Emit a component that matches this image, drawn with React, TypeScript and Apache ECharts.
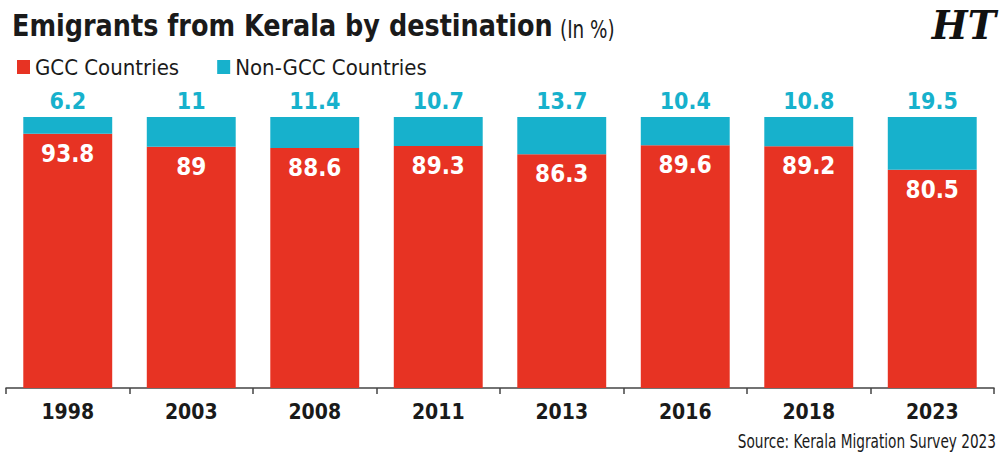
import React, { useEffect, useRef } from "react";
import * as echarts from "echarts";

const years = ["1998", "2003", "2008", "2011", "2013", "2016", "2018", "2023"];
const gccValues = [93.8, 89, 88.6, 89.3, 86.3, 89.6, 89.2, 80.5];
const nonGccValues = [6.2, 11, 11.4, 10.7, 13.7, 10.4, 10.8, 19.5];

const RED = "#e73323";
const CYAN = "#17b1cc";
const FONT = "'DejaVu Sans Condensed', 'DejaVu Sans', sans-serif";

export default function App() {
  const ref = useRef<HTMLDivElement>(null);
  useEffect(() => {
    if (!ref.current) return;
    const chart = echarts.init(ref.current, null, { renderer: "svg" });
    chart.setOption({
      animation: false,
      backgroundColor: "#ffffff",
      legend: {
        left: 12,
        top: 51,
        icon: "rect",
        itemWidth: 13,
        itemHeight: 14,
        itemGap: 38,
        textStyle: { fontFamily: FONT, fontSize: 22, color: "#1a1a1a" },
        data: ["GCC Countries", "Non-GCC Countries"],
      },
      graphic: [
        {
          type: "text",
          x: 12,
          y: 25,
          scaleX: 0.915,
          style: {
            text: "Emigrants from Kerala by destination",
            fontFamily: FONT,
            fontWeight: "bold",
            fontSize: 31,
            fill: "#1a1a1a",
            verticalAlign: "middle",
          },
        },
        {
          type: "text",
          x: 560,
          y: 29,
          scaleX: 0.85,
          style: {
            text: "(In %)",
            fontFamily: FONT,
            fontSize: 24,
            fill: "#1a1a1a",
            verticalAlign: "middle",
          },
        },
        {
          type: "text",
          x: 996,
          y: 25,
          scaleX: 0.95,
          style: {
            text: "HT",
            fontFamily: "'DejaVu Serif', serif",
            fontWeight: "bold",
            fontStyle: "italic",
            fontSize: 40,
            fill: "#111111",
            align: "right",
            verticalAlign: "middle",
          },
        },
        {
          type: "text",
          x: 996,
          y: 441,
          scaleX: 0.8,
          style: {
            text: "Source: Kerala Migration Survey 2023",
            fontFamily: FONT,
            fontSize: 19,
            fill: "#1a1a1a",
            align: "right",
            verticalAlign: "middle",
          },
        },
      ],
      grid: { left: 6, right: 6, top: 117, bottom: 70, containLabel: false },
      xAxis: {
        type: "category",
        data: years,
        axisLine: { show: true, lineStyle: { color: "#444444", width: 1.5 } },
        axisTick: { show: true, length: 6, lineStyle: { color: "#444444", width: 1.5 } },
        axisLabel: {
          fontFamily: FONT,
          fontSize: 21,
          fontWeight: "bold",
          color: "#1a1a1a",
          margin: 13,
        },
      },
      yAxis: { type: "value", min: 0, max: 100, show: false, splitLine: { show: false } },
      series: [
        {
          name: "GCC Countries",
          type: "bar",
          stack: "total",
          data: gccValues,
          barWidth: "72%",
          itemStyle: { color: RED },
          label: {
            show: true,
            position: "insideTop",
            distance: 8,
            color: "#ffffff",
            fontFamily: FONT,
            fontWeight: "bold",
            fontSize: 24,
          },
        },
        {
          name: "Non-GCC Countries",
          type: "bar",
          stack: "total",
          data: nonGccValues,
          barWidth: "72%",
          itemStyle: { color: CYAN },
          label: {
            show: true,
            position: "top",
            distance: 5,
            color: CYAN,
            fontFamily: FONT,
            fontWeight: "bold",
            fontSize: 23,
          },
        },
      ],
    });
    return () => chart.dispose();
  }, []);
  return <div ref={ref} style={{ width: 1000, height: 458, position: "absolute", left: 0, top: 0 }} />;
}
